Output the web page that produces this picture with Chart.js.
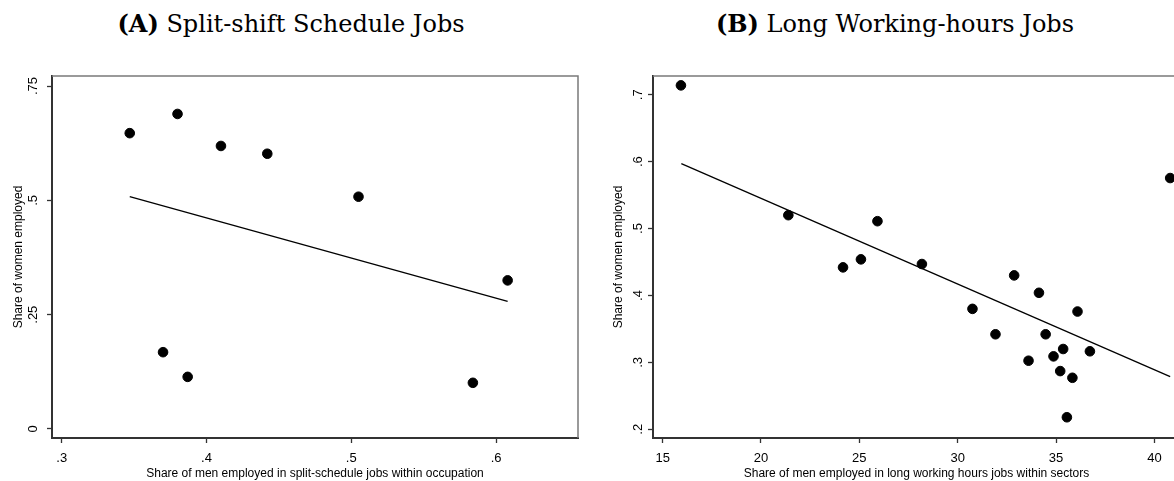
<!DOCTYPE html>
<html>
<head>
<meta charset="utf-8">
<script src="https://cdn.jsdelivr.net/npm/chart.js@4.4.1/dist/chart.umd.min.js"></script>
<style>
  html, body { margin: 0; padding: 0; background: #fff; overflow: hidden; }
  body { width: 1174px; height: 481px; position: relative; }
  .title {
    position: absolute; top: 10px; font-family: "DejaVu Serif", serif;
    font-size: 24px; line-height: 28px; color: #000; white-space: nowrap;
    transform: translateX(-50%);
  }
  .panel { position: absolute; top: 0; height: 481px; }
</style>
</head>
<body>
<div class="title" style="left:291px"><b>(A)</b> Split-shift Schedule Jobs</div>
<div class="title" style="left:895px"><b>(B)</b> Long Working-hours Jobs</div>
<div class="panel" style="left:0; width:587px"><canvas id="chartA"></canvas></div>
<div class="panel" style="left:587px; width:620px"><canvas id="chartB"></canvas></div>

<script>
// Panel A: split-shift schedule jobs (share of men vs share of women, by occupation)
const splitMen   = [0.347, 0.380, 0.410, 0.442, 0.370, 0.387, 0.505, 0.608, 0.584];
const splitWomen = [0.647, 0.689, 0.619, 0.602, 0.168, 0.114, 0.508, 0.325, 0.101];
const splitFitX  = [0.347, 0.608];
const splitFitY  = [0.508, 0.279];
const splitXTicks = [0.3, 0.4, 0.5, 0.6];
const splitXLabels = ['.3', '.4', '.5', '.6'];
const splitYTicks = [0, 0.25, 0.5, 0.75];
const splitYLabels = ['0', '.25', '.5', '.75'];

// Panel B: long working-hours jobs (by sector)
const longMen   = [15.93, 21.39, 24.17, 25.08, 25.92, 28.18, 30.75, 31.92, 32.87, 33.60,
                   34.13, 34.47, 34.87, 35.36, 35.21, 35.55, 35.83, 36.09, 36.72, 40.80];
const longWomen = [0.714, 0.520, 0.442, 0.454, 0.511, 0.447, 0.380, 0.342, 0.430, 0.3025,
                   0.404, 0.342, 0.309, 0.320, 0.287, 0.218, 0.277, 0.376, 0.3166, 0.5755];
const longFitX  = [15.95, 40.8];
const longFitY  = [0.597, 0.2786];
const longXTicks = [15, 20, 25, 30, 35, 40];
const longXLabels = ['15', '20', '25', '30', '35', '40'];
const longYTicks = [0.2, 0.3, 0.4, 0.5, 0.6, 0.7];
const longYLabels = ['.2', '.3', '.4', '.5', '.6', '.7'];

const AXIS_DARK = '#333333';
const FRAME_GRAY = '#7a7a7a';
const SANS = '"Liberation Sans", Arial, sans-serif';

// Draws the light top/right sides of the plot box (Stata style)
const framePlugin = {
  id: 'frame',
  afterDatasetsDraw(chart) {
    const { ctx, chartArea: a } = chart;
    ctx.save();
    ctx.strokeStyle = FRAME_GRAY;
    ctx.lineWidth = 1.5;
    ctx.beginPath();
    ctx.moveTo(a.left, a.top);
    ctx.lineTo(a.right, a.top);
    ctx.lineTo(a.right, a.bottom);
    ctx.stroke();
    ctx.restore();
  }
};

function toPoints(xs, ys) {
  return xs.map((x, i) => ({ x, y: ys[i] }));
}

function makeChart(id, cfg) {
  const ctx = document.getElementById(id).getContext('2d');
  return new Chart(ctx, {
    type: 'scatter',
    data: {
      datasets: [
        {
          data: toPoints(cfg.xs, cfg.ys),
          backgroundColor: '#000',
          borderColor: '#000',
          pointRadius: 4.8,
          pointHoverRadius: 4.8,
        },
        {
          type: 'line',
          data: toPoints(cfg.fitX, cfg.fitY),
          borderColor: '#000',
          borderWidth: 1.3,
          pointRadius: 0,
          fill: false,
        }
      ]
    },
    options: {
      responsive: true,
      maintainAspectRatio: false,
      animation: false,
      layout: { padding: { top: 76, right: cfg.padRight, bottom: 0, left: 0 } },
      plugins: { legend: { display: false }, tooltip: { enabled: false } },
      scales: {
        x: {
          type: 'linear',
          min: cfg.xMin, max: cfg.xMax,
          afterBuildTicks: s => { s.ticks = cfg.xTicks.map(v => ({ value: v })); },
          afterFit: s => { s.height = 43; },
          border: { color: AXIS_DARK, width: 2 },
          grid: { drawOnChartArea: false, drawTicks: true, tickLength: 5, color: AXIS_DARK, tickWidth: 1.3 },
          ticks: {
            color: '#000', padding: 8, maxRotation: 0,
            font: { family: SANS, size: 13 },
            callback: v => cfg.xLabels[cfg.xTicks.indexOf(v)] ?? ''
          },
          title: {
            display: true, text: cfg.xTitle, color: '#000',
            font: { family: SANS, size: 12 }, padding: { top: 0, bottom: 0 }
          }
        },
        y: {
          type: 'linear',
          min: cfg.yMin, max: cfg.yMax,
          afterBuildTicks: s => { s.ticks = cfg.yTicks.map(v => ({ value: v })); },
          afterFit: s => { s.width = cfg.yWidth; },
          border: { color: AXIS_DARK, width: 2 },
          grid: { drawOnChartArea: false, drawTicks: true, tickLength: 5, color: AXIS_DARK, tickWidth: 1.3 },
          ticks: {
            color: '#000', padding: cfg.yTickPad, minRotation: 90, maxRotation: 90,
            crossAlign: 'center',
            font: { family: SANS, size: 13 },
            callback: v => cfg.yLabels[cfg.yTicks.indexOf(v)] ?? ''
          },
          title: {
            display: true, text: 'Share of women employed', color: '#000',
            font: { family: SANS, size: 12 }, padding: { top: cfg.yTitlePad, bottom: 0 }
          }
        }
      }
    },
    plugins: [framePlugin]
  });
}

makeChart('chartA', {
  xs: splitMen, ys: splitWomen, fitX: splitFitX, fitY: splitFitY,
  xTicks: splitXTicks, xLabels: splitXLabels, yTicks: splitYTicks, yLabels: splitYLabels,
  xMin: 0.2933, xMax: 0.6566, yMin: -0.0197, yMax: 0.772,
  padRight: 9, yWidth: 52, yTickPad: 5, yTitlePad: 11,
  xTitle: 'Share of men employed in split-schedule jobs within occupation'
});

makeChart('chartB', {
  xs: longMen, ys: longWomen, fitX: longFitX, fitY: longFitY,
  xTicks: longXTicks, xLabels: longXLabels, yTicks: longYTicks, yLabels: longYLabels,
  xMin: 14.51, xMax: 41.3, yMin: 0.187, yMax: 0.728,
  padRight: 27, yWidth: 66, yTickPad: 4, yTitlePad: 24,
  xTitle: 'Share of men employed in long working hours jobs within sectors'
});
</script>
</body>
</html>
